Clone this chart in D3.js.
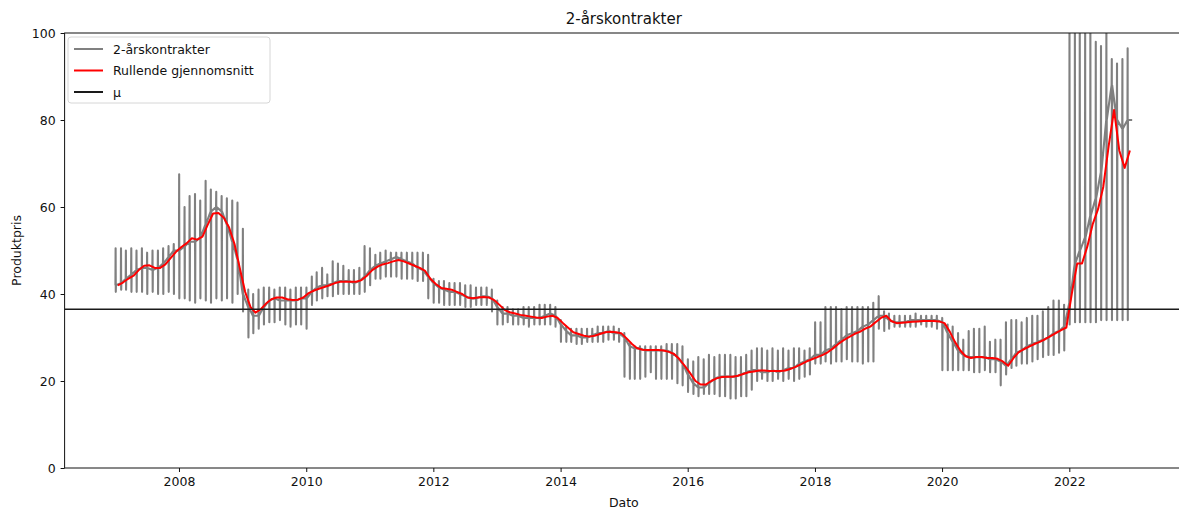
<!DOCTYPE html>
<html>
<head>
<meta charset="utf-8">
<script src="https://cdn.jsdelivr.net/npm/d3@7"></script>
<style>
  html, body { margin: 0; padding: 0; background: #fff; overflow: hidden; }
  svg { display: block; font-family: "DejaVu Sans", sans-serif; }
</style>
</head>
<body>
<svg id="chart" width="1179" height="511"></svg>
<script>
// Monthly observations, January 2007 – December 2022 (one row per year).
// Each month: the level of the series, plus the top and bottom of that month's swing.
const grayBase = [
  42, 42.5, 43.5, 44.5, 45.5, 46, 46, 45.5, 46, 47, 48.5, 50,
  50, 51, 52, 52, 53, 56, 59, 60, 59, 56, 52, 48,
  40, 37, 35, 35, 37, 38.5, 39, 38.5, 38.5, 38.5, 38.5, 39,
  39, 40.5, 41.5, 42, 42, 42.5, 43, 43, 43, 42.5, 43, 44,
  45.5, 46.5, 47, 47.5, 48, 48.5, 48, 47.5, 47, 46, 45.5, 44,
  42.5, 41.5, 41, 40.5, 40.5, 40, 39.5, 39, 39, 39.5, 39.5, 39,
  37, 35.5, 35.5, 35, 35, 34.5, 34.5, 34.5, 34.5, 35, 35.5, 35,
  33, 31.5, 30.5, 30.5, 30, 30, 30.5, 31, 31, 31.5, 31, 31,
  30, 28, 27.5, 27.5, 27, 27, 27, 27, 27, 26.5, 25.5, 24,
  21.5, 19.5, 18.5, 18.5, 19.5, 20.5, 21, 21, 21, 21, 21.5, 22,
  22.5, 22.5, 22, 22, 22.5, 22, 22.5, 23, 23, 24, 24.5, 25,
  26, 26, 27, 27.5, 28.5, 29.5, 30.5, 31, 31.5, 32.5, 33, 34,
  35, 35, 34, 33.5, 33.5, 33.5, 34, 34, 34, 34, 34, 34,
  33.5, 31, 29, 27, 26, 25.5, 25.5, 25.5, 25.5, 25, 25, 24.5,
  23.5, 25, 26.5, 27, 28, 28.5, 29, 29.5, 30, 31, 31.5, 32.5,
  38, 47, 50, 53, 58, 62, 68, 80, 88, 80, 78, 80
];
const grayHigh = [
  50.5, 50.5, 50, 50.5, 50, 50.5, 49.5, 50, 50, 50.5, 51, 51.5,
  67.5, 60, 62.5, 63, 61.5, 66, 64, 63.5, 62.5, 62, 61.5, 61,
  55, 41, 40, 41, 41.5, 41.5, 41, 41.5, 41.5, 41, 41.5, 41.5,
  41.5, 44, 45, 46, 44.5, 47.5, 47, 46.5, 45.5, 45.5, 46, 51,
  50.5, 49, 49.5, 50, 49.5, 49.5, 49.5, 49.5, 49.5, 49.5, 49.5, 49,
  43.5, 43, 43, 42.5, 42.5, 42.5, 42, 42, 41.5, 41.5, 41.5, 41,
  38.5, 37, 37, 36.5, 36.5, 37, 37, 37, 37.5, 37.5, 37.5, 37,
  34, 32.5, 32, 32, 32, 32, 32, 32.5, 32.5, 32.5, 32.5, 32,
  31, 28.5, 28, 28, 28, 28, 28, 28, 28.5, 28.5, 28.5, 28,
  25, 24.5, 25.5, 25, 26, 25.5, 26, 26, 26, 25.5, 25.5, 26,
  27, 27.5, 27.5, 27, 27.5, 27, 27.5, 27, 27.5, 27.5, 27, 27.5,
  33.5, 33.5, 37, 37, 37, 36.5, 37, 37, 37, 37, 37, 38,
  39.5, 36, 35.5, 35, 35, 35, 35, 35.5, 35, 35, 35, 35,
  34.5, 33, 32.5, 31, 29.5, 31.5, 32, 32, 32.5, 29, 29.5, 29.5,
  33.5, 34, 34, 33.5, 34.5, 35, 35, 36, 37, 38.5, 38.5, 37.5,
  103, 103, 103, 103, 103, 98, 97, 100.5, 94, 93, 94, 96.5
];
const grayLow = [
  40.5, 41, 41, 40.5, 40.5, 40.5, 40, 40.5, 40, 40, 40.5, 40,
  39, 39, 38.5, 38, 39, 38.5, 38, 39, 38.5, 39, 38, 40,
  36, 30, 31, 32, 33, 33.5, 33.5, 34, 33, 32.5, 33, 33,
  32, 37.5, 38.5, 39, 39.5, 39.5, 40, 40, 40, 40, 40, 40.5,
  42, 43.5, 43.5, 44, 44, 44, 43.5, 43.5, 43.5, 43, 43, 39,
  38, 38, 37.5, 37.5, 37.5, 37.5, 37, 37, 37.5, 37.5, 37.5, 36,
  33, 33, 33.5, 33, 33, 33, 32.5, 33, 33, 33, 33, 32.5,
  29, 29, 29, 28.5, 28.5, 29, 29, 29, 29, 29.5, 29.5, 29,
  21, 20.5, 20.5, 20.5, 21, 22, 20.5, 20.5, 20.5, 20.5, 19.5, 19,
  17.5, 17, 16.5, 17, 17, 17, 16.5, 16.5, 16, 16, 16.5, 16.5,
  18, 20, 20.5, 20, 20, 20.5, 20, 20.5, 20, 20.5, 21, 21.5,
  24, 24, 24.5, 24, 24.5, 24.5, 25, 24.5, 24.5, 24, 24.5, 24.5,
  32, 31.5, 32, 32.5, 32.5, 32.5, 32.5, 32.5, 33, 32.5, 32.5, 32,
  22.5, 22.5, 22.5, 22.5, 22.5, 22.5, 22, 22, 22.5, 22, 22, 19,
  21.5, 23, 23.5, 24, 24, 24.5, 25, 25.5, 26, 26, 26.5, 27,
  33, 33.5, 33.5, 33.5, 33.5, 33.5, 34, 34, 34, 34, 34, 34
];
// Rolling mean, sampled mid-month.
const rollingMean = [
  42, 42.7, 43.5, 44.2, 45.5, 46.5, 46.6, 46, 46, 46.8, 48.3, 49.7,
  50.8, 51.7, 52.8, 52.5, 53.2, 56, 58.5, 58.6, 57.5, 55.3, 51.5, 46,
  40.5, 37, 35.7, 36.5, 37.8, 38.8, 39.2, 39.2, 38.8, 38.6, 38.7, 39.2,
  40.2, 40.8, 41.2, 41.6, 42, 42.5, 42.8, 42.8, 42.8, 42.8, 43.2, 44.2,
  45.5, 46.3, 46.8, 47.1, 47.5, 47.8, 47.5, 47, 46.5, 46, 45.3, 43.5,
  42.3, 41.4, 41.2, 41, 40.5, 40, 39.2, 39, 39.2, 39.3, 39.2, 38.6,
  37.5, 36.3, 35.8, 35.5, 35.2, 35, 34.8, 34.6, 34.5, 34.8, 35, 34.5,
  33.3, 32.2, 31.2, 30.8, 30.4, 30.2, 30.4, 30.8, 31.2, 31.3, 31.2, 31,
  29.8, 28.5, 27.6, 27.2, 27.1, 27.1, 27.1, 27, 26.7, 26.2, 25, 23.5,
  21.8, 20, 19.2, 19.2, 20, 20.6, 20.9, 21, 21, 21.2, 21.6, 22,
  22.2, 22.4, 22.4, 22.3, 22.3, 22.3, 22.4, 22.8, 23.3, 23.9, 24.5, 25,
  25.5, 26, 26.6, 27.5, 28.5, 29.4, 30.1, 30.8, 31.3, 32, 32.5, 33.5,
  34.5, 35, 33.8, 33.3, 33.4, 33.5, 33.6, 33.7, 33.8, 33.8, 33.8, 33.7,
  33.3, 31.3, 29, 27, 25.7, 25.3, 25.5, 25.5, 25.3, 25.3, 25.1, 24.5,
  23.5, 25.3, 26.6, 27.3, 27.9, 28.5, 29, 29.6, 30.3, 31, 31.7, 32.3,
  40, 47, 47, 51, 56, 59.5, 64.6, 74, 82.3, 73, 69, 73
];
const meanLevel = 36.5;                 // μ
const yTicks = [0, 20, 40, 60, 80, 100];
const xTickYears = [2008, 2010, 2012, 2014, 2016, 2018, 2020, 2022];
const legendLabels = ["2-årskontrakter", "Rullende gjennomsnitt", "μ"];
const titleText = "2-årskontrakter";
const xLabel = "Dato";
const yLabel = "Produktpris";

const months = d3.timeMonth.range(new Date(2007, 0, 1), new Date(2023, 0, 1));

// Gray path: level at the start of each month, a one-day swing up and down, back to level.
const grayPoints = [];
months.forEach((m, i) => {
  const day = k => d3.timeDay.offset(m, k);
  grayPoints.push([day(0), grayBase[i]]);
  grayPoints.push([day(1), grayHigh[i]]);
  grayPoints.push([day(2), grayLow[i]]);
  grayPoints.push([day(3), grayBase[i]]);
});
grayPoints.push([d3.timeDay.offset(months[months.length - 1], 27), grayBase[grayBase.length - 1]]);

const meanPoints = months.map((m, i) => [d3.timeDay.offset(m, 14), rollingMean[i]]);

const plotLeft = 64.6, plotRight = 1183, plotTop = 33, plotBottom = 468;
const [t0, t1] = d3.extent(grayPoints, d => d[0]);
const pad = (t1 - t0) * 0.05;
const x = d3.scaleTime().domain([new Date(+t0 - pad), new Date(+t1 + pad)]).range([plotLeft, plotRight]);
const y = d3.scaleLinear().domain([0, 100]).range([plotBottom, plotTop]);

const svg = d3.select("#chart");

svg.append("defs").append("clipPath").attr("id", "plotClip")
  .append("rect").attr("x", plotLeft).attr("y", plotTop)
  .attr("width", plotRight - plotLeft).attr("height", plotBottom - plotTop);

const plot = svg.append("g").attr("clip-path", "url(#plotClip)");
const line = d3.line().x(d => x(d[0])).y(d => y(d[1]));

plot.append("path").datum(grayPoints)
  .attr("d", line).attr("fill", "none")
  .attr("stroke", "#808080").attr("stroke-width", 2.1).attr("stroke-linejoin", "round");

plot.append("path").datum(meanPoints)
  .attr("d", line).attr("fill", "none")
  .attr("stroke", "#ff0000").attr("stroke-width", 2).attr("stroke-linejoin", "round");

plot.append("line")
  .attr("x1", plotLeft).attr("x2", plotRight)
  .attr("y1", y(meanLevel)).attr("y2", y(meanLevel))
  .attr("stroke", "#1a1a1a").attr("stroke-width", 1.7);

// Axes
const xAxis = svg.append("g").attr("transform", `translate(0,${plotBottom})`)
  .call(d3.axisBottom(x)
    .tickValues(xTickYears.map(yr => new Date(yr, 0, 1)))
    .tickFormat(d3.timeFormat("%Y"))
    .tickSize(4).tickPadding(5).tickSizeOuter(0));
const yAxis = svg.append("g").attr("transform", `translate(${plotLeft},0)`)
  .call(d3.axisLeft(y).tickValues(yTicks).tickFormat(d3.format("d"))
    .tickSize(4).tickPadding(5).tickSizeOuter(0));
[xAxis, yAxis].forEach(g => {
  g.select(".domain").remove();
  g.selectAll("text").attr("font-size", 12.5).attr("fill", "#111").attr("font-family", "DejaVu Sans");
  g.selectAll("line").attr("stroke", "#111");
});

// Frame
svg.append("rect").attr("x", plotLeft).attr("y", plotTop)
  .attr("width", plotRight - plotLeft).attr("height", plotBottom - plotTop)
  .attr("fill", "none").attr("stroke", "#111").attr("stroke-width", 1);

// Title and axis labels
svg.append("text").attr("x", (plotLeft + plotRight) / 2).attr("y", 24)
  .attr("text-anchor", "middle").attr("font-size", 15).attr("fill", "#111").text(titleText);
svg.append("text").attr("x", (plotLeft + plotRight) / 2).attr("y", 507)
  .attr("text-anchor", "middle").attr("font-size", 12.5).attr("fill", "#111").text(xLabel);
svg.append("text").attr("transform", `translate(21,${(plotTop + plotBottom) / 2}) rotate(-90)`)
  .attr("text-anchor", "middle").attr("font-size", 12.5).attr("fill", "#111").text(yLabel);

// Legend
const legend = svg.append("g");
legend.append("rect").attr("x", 68).attr("y", 37).attr("width", 202).attr("height", 66)
  .attr("rx", 3).attr("fill", "#fff").attr("fill-opacity", 0.85)
  .attr("stroke", "#d6d6d6").attr("stroke-width", 1);
const legendColors = ["#808080", "#ff0000", "#1a1a1a"];
legendLabels.forEach((lab, i) => {
  const yy = 49 + i * 21.5;
  legend.append("line").attr("x1", 74).attr("x2", 103).attr("y1", yy).attr("y2", yy)
    .attr("stroke", legendColors[i]).attr("stroke-width", 2);
  legend.append("text").attr("x", 113).attr("y", yy + 4.5)
    .attr("font-size", 12.5).attr("fill", "#111").text(lab);
});
</script>
</body>
</html>
